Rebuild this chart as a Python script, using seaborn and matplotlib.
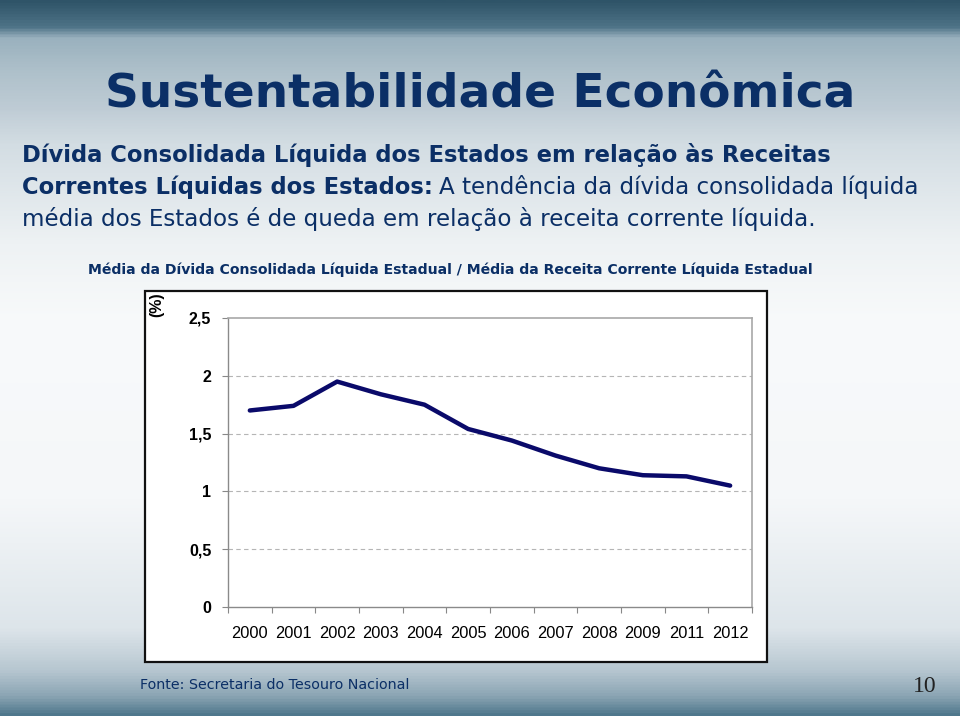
import numpy as np
import pandas as pd
import seaborn as sns
import matplotlib.pyplot as plt
from matplotlib.colors import LinearSegmentedColormap
from matplotlib.patches import Rectangle

# dados
anos = ['2000', '2001', '2002', '2003', '2004', '2005', '2006', '2007', '2008', '2009', '2011', '2012']
divida_rcl = [1.70, 1.74, 1.95, 1.84, 1.75, 1.54, 1.44, 1.31, 1.20, 1.14, 1.13, 1.05]
y_ticks = [0, 0.5, 1, 1.5, 2, 2.5]
y_labels = ['0', '0,5', '1', '1,5', '2', '2,5']

df = pd.DataFrame({'ano': anos, 'valor': divida_rcl})

navy = '#0B2F66'
linha = '#0A0A6A'

sns.set_theme(style='white')
plt.rcParams['font.family'] = ['DejaVu Sans']

fig = plt.figure(figsize=(9.6, 7.16), dpi=100)

# fundo do slide (degrade vertical, 0 = base, 1 = topo)
bg = fig.add_axes([0, 0, 1, 1])
bg.set_axis_off()
stops = [(0.0, '#4F778C'), (0.025, '#8AA4B3'), (0.06, '#B6C6D0'), (0.12, '#DDE5EA'),
         (0.3, '#F5F7F9'), (0.55, '#F8FAFB'), (0.66, '#EEF2F4'), (0.8, '#D3DDE3'),
         (0.85, '#BFCCD5'), (0.9, '#AFC1CB'), (0.95, '#9AB1BE'), (0.965, '#4E7387'),
         (1.0, '#2F5468')]
cmap = LinearSegmentedColormap.from_list('slide', stops)
grad = np.linspace(0, 1, 500).reshape(-1, 1)
bg.imshow(grad, aspect='auto', cmap=cmap, extent=[0, 1, 0, 1], origin='lower')
bg.set_xlim(0, 1)
bg.set_ylim(0, 1)

fig.text(0.5, 0.868, 'Sustentabilidade Econômica', ha='center', va='center',
         fontsize=33.8, fontweight='bold', color=navy)

fig.text(0.023, 0.783, 'Dívida Consolidada Líquida dos Estados em relação às Receitas',
         ha='left', va='center', fontsize=16.25, fontweight='bold', color=navy)
t = fig.text(0.023, 0.739, 'Correntes Líquidas dos Estados:', ha='left', va='center',
             fontsize=16.25, fontweight='bold', color=navy)
fig.canvas.draw()
bb = t.get_window_extent()
fig.text(bb.x1 / fig.bbox.width + 0.006, 0.739, 'A tendência da dívida consolidada líquida',
         ha='left', va='center', fontsize=16.6, color=navy)
fig.text(0.023, 0.694, 'média dos Estados é de queda em relação à receita corrente líquida.',
         ha='left', va='center', fontsize=16.6, color=navy)

fig.text(0.469, 0.623, 'Média da Dívida Consolidada Líquida Estadual / Média da Receita Corrente Líquida Estadual',
         ha='center', va='center', fontsize=10.1, fontweight='bold', color=navy)

# caixa branca do grafico
fig.patches.append(Rectangle((0.151, 0.0754), 0.648, 0.518, transform=fig.transFigure,
                             facecolor='white', edgecolor='#111111', linewidth=1.6, zorder=1))

ax = fig.add_axes([0.2375, 0.1522, 0.5458, 0.4037])
ax.set_zorder(2)
sns.lineplot(data=df, x='ano', y='valor', ax=ax, color=linha, linewidth=3.2, sort=False)

ax.set_xlim(-0.5, len(anos) - 0.5)
ax.set_ylim(0, 2.5)
ax.set_yticks(y_ticks)
ax.set_yticklabels(y_labels, fontfamily='Liberation Sans', fontweight='bold', fontsize=11.5, color='black')
ax.set_xticks(range(len(anos)))
ax.set_xticklabels(anos, fontfamily='Liberation Sans', fontsize=11.8, color='black')
ax.set_xticks(np.arange(-0.5, len(anos)), minor=True)
ax.tick_params(axis='x', which='major', length=0, pad=14)
ax.tick_params(axis='x', which='minor', length=4, color='#888888', width=0.8, bottom=True)
ax.tick_params(axis='y', length=4, color='#888888', width=0.8, left=True, pad=8)
for v in y_ticks[1:-1]:
    ax.axhline(v, color='#B5B5B5', linestyle=(0, (4, 3)), linewidth=0.8, zorder=0)
ax.set_xlabel('')
ax.set_ylabel('')
for s in ['top', 'right']:
    ax.spines[s].set_color('#A8A8A8')
    ax.spines[s].set_linewidth(1.2)
for s in ['left', 'bottom']:
    ax.spines[s].set_color('#8A8A8A')
    ax.spines[s].set_linewidth(1.0)
ax.set_facecolor('white')

fig.text(0.163, 0.574, '(%)', rotation=90, ha='center', va='center',
         fontfamily='Liberation Sans', fontweight='bold', fontsize=11.5, color='black')

fig.text(0.146, 0.043, 'Fonte: Secretaria do Tesouro Nacional', ha='left', va='center',
         fontsize=10.3, color=navy)
fig.text(0.963, 0.041, '10', ha='center', va='center', fontfamily='Liberation Serif',
         fontsize=17, color='#222222')

fig.savefig('out.png', dpi=100)
